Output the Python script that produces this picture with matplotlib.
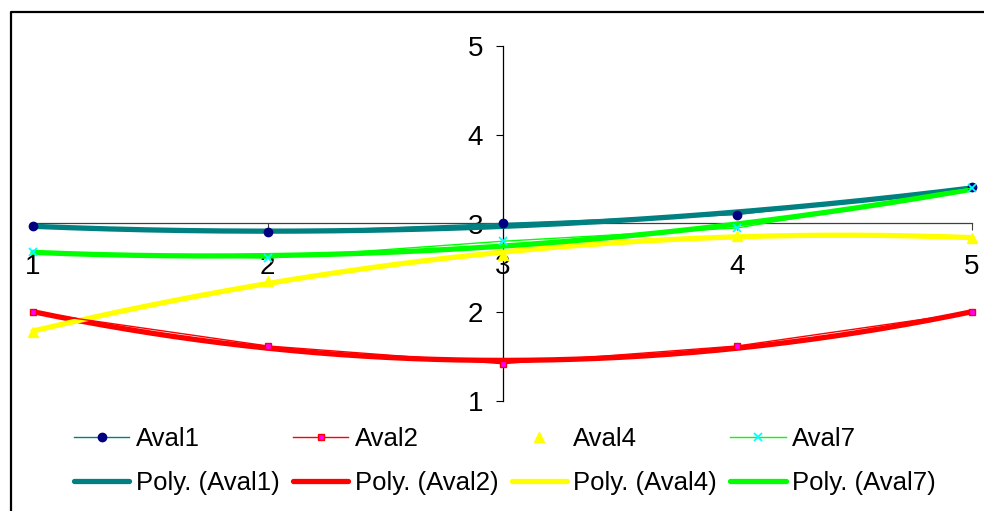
import numpy as np
import matplotlib
matplotlib.use("Agg")
import matplotlib.pyplot as plt
from matplotlib.lines import Line2D

plt.rcParams['font.family'] = ['Liberation Sans', 'DejaVu Sans']

x = [1, 2, 3, 4, 5]
aval1 = [2.97, 2.90, 3.00, 3.10, 3.41]
aval2 = [2.00, 1.62, 1.42, 1.62, 2.00]
aval4 = [1.78, 2.35, 2.65, 2.86, 2.84]
aval7 = [2.68, 2.61, 2.80, 2.95, 3.40]

fig = plt.figure(figsize=(9.84, 5.11), dpi=100)

# outer chart border (left and top edges only fall inside the image)
bx, by = 11 / 984, 1 - 12 / 511
fig.lines.append(Line2D([bx, bx, 1.05], [-0.05, by, by], transform=fig.transFigure,
                        color='black', lw=1.6))

ax = fig.add_axes([33 / 984, 1 - 401 / 511, 939 / 984, 355 / 511])
ax.set_xlim(1, 5)
ax.set_ylim(1, 5)


def trend(vals):
    # second order polynomial trendline
    c = np.polyfit(x, vals, 2)
    xs = np.linspace(1, 5, 200)
    return xs, np.polyval(c, xs)


h1, = ax.plot(x, aval1, color='#008080', lw=1, marker='o', ms=6,
              mfc='#000080', mec='#000080', zorder=4, clip_on=False, label='Aval1')
h2, = ax.plot(x, aval2, color='#FF0000', lw=1, marker='s', ms=4.5,
              mfc='#FF00FF', mec='#FF0000', zorder=4, clip_on=False, label='Aval2')
h4, = ax.plot(x, aval4, ls='none', marker='^', ms=7.5,
              mfc='#FFFF00', mec='#FFFF00', zorder=4, clip_on=False, label='Aval4')
h7, = ax.plot(x, aval7, color='#00FF00', lw=1, marker='x', ms=5.5, mew=1.3,
              mec='#00FFFF', zorder=4, clip_on=False, label='Aval7')

xs, ys = trend(aval1)
t1, = ax.plot(xs, ys, color='#008080', lw=3.8, zorder=3, clip_on=False,
              solid_capstyle='round', label='Poly. (Aval1)')
xs, ys = trend(aval2)
t2, = ax.plot(xs, ys, color='#FF0000', lw=3.8, zorder=3, clip_on=False,
              solid_capstyle='round', label='Poly. (Aval2)')
xs, ys = trend(aval4)
t4, = ax.plot(xs, ys, color='#FFFF00', lw=3.8, zorder=3, clip_on=False,
              solid_capstyle='round', label='Poly. (Aval4)')
xs, ys = trend(aval7)
t7, = ax.plot(xs, ys, color='#00FF00', lw=3.8, zorder=3, clip_on=False,
              solid_capstyle='round', label='Poly. (Aval7)')

# axes cross in the middle
ax.spines['top'].set_visible(False)
ax.spines['right'].set_visible(False)
ax.spines['left'].set_position(('data', 3))
ax.spines['bottom'].set_position(('data', 3))
ax.spines['left'].set_linewidth(0.9)
ax.spines['bottom'].set_linewidth(0.9)
ax.spines['bottom'].set_color('#404040')

ax.set_xticks(x)
ax.set_yticks([1, 2, 3, 4, 5])
ax.tick_params(axis='x', direction='out', length=5, pad=17, labelsize=20,
               color='#404040')
ax.tick_params(axis='y', direction='out', length=5, pad=9, labelsize=20)
ax.patch.set_visible(False)

handles = [h1, t1, h2, t2, h4, t4, h7, t7]
fig.legend(handles=handles, labels=[h.get_label() for h in handles],
           ncol=4, loc='center', bbox_to_anchor=(505 / 984, 1 - 461 / 511),
           frameon=False, fontsize=18.5, handlelength=2.15, handletextpad=0.25,
           columnspacing=0.52, labelspacing=0.75, borderpad=0)

fig.savefig('out.png', dpi=100)
